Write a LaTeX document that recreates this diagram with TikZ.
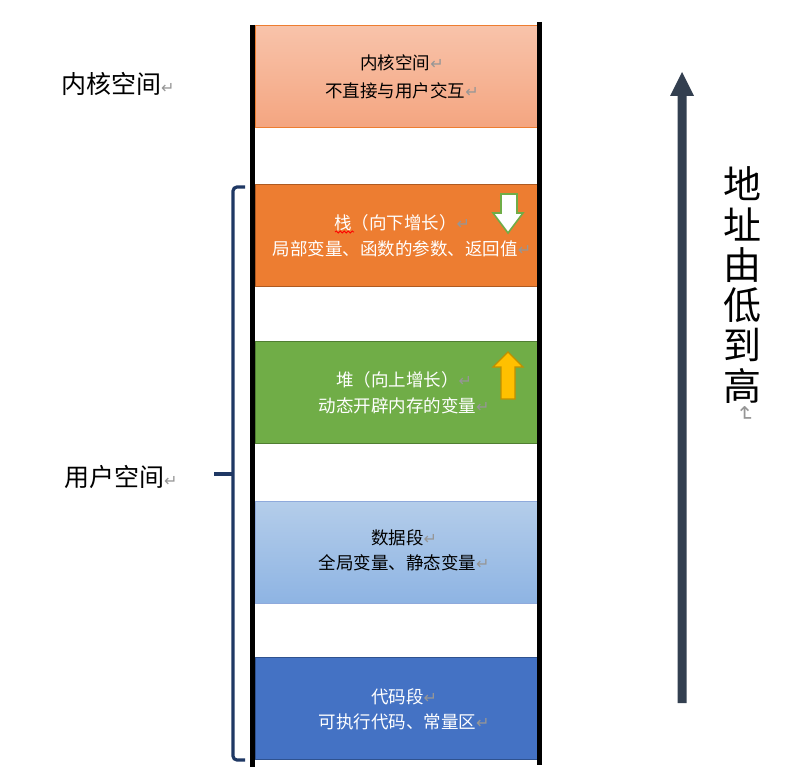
\documentclass[tikz,border=0pt]{standalone}
\usepackage{fontspec}
\setmainfont{Noto Sans CJK SC}
\newfontfamily\markfont{DejaVu Sans}
\usetikzlibrary{decorations.pathmorphing}
\definecolor{kerneltop}{RGB}{248,195,170}
\definecolor{kernelbot}{RGB}{244,165,128}
\definecolor{kernelbd}{RGB}{237,125,49}
\definecolor{stackfill}{RGB}{237,125,49}
\definecolor{stackbd}{RGB}{174,90,33}
\definecolor{heapfill}{RGB}{112,173,71}
\definecolor{heapbd}{RGB}{80,126,50}
\definecolor{datatop}{RGB}{180,205,234}
\definecolor{databot}{RGB}{142,180,227}
\definecolor{databd}{RGB}{143,170,220}
\definecolor{codefill}{RGB}{68,114,196}
\definecolor{codebd}{RGB}{47,82,143}
\definecolor{bracecol}{RGB}{31,56,100}
\definecolor{addrcol}{RGB}{51,63,80}
\definecolor{markgray}{RGB}{150,150,150}
\definecolor{goldfill}{RGB}{255,192,0}
\definecolor{goldbd}{RGB}{191,144,0}
\newcommand{\parmk}{{\markfont\color{markgray}\fontsize{16}{16}\selectfont ↵}}
\newcommand{\bigparmk}{{\markfont\color{markgray}\fontsize{21}{21}\selectfont ↵}}
\tikzset{
  seg/.style={minimum width=282pt, minimum height=102pt, inner sep=0pt, line width=1pt},
  segtext/.style={align=center, inner sep=0pt, font=\fontsize{17.5}{25.5}\selectfont},
  sidelabel/.style={inner sep=0pt, anchor=west, font=\fontsize{25}{25}\selectfont},
  wall/.style={line width=4.5pt, black},
}
\begin{document}
\begin{tikzpicture}[x=1pt,y=-1pt]
\useasboundingbox (0,0) rectangle (801,781);
% segments
\node[seg, draw=kernelbd, top color=kerneltop, bottom color=kernelbot] (kernel) at (396,77) {};
\node[seg, draw=stackbd, fill=stackfill] (stack) at (396,235.5) {};
\node[seg, draw=heapbd, fill=heapfill] (heap) at (396,392.5) {};
\node[seg, draw=databd, top color=datatop, bottom color=databot] (data) at (396,552) {};
\node[seg, draw=codebd, fill=codefill] (code) at (396,708.5) {};
% walls
\coordinate (lwtop) at (252.5,25);
\coordinate (lwbot) at (252.5,767);
\coordinate (rwtop) at (539.5,22);
\coordinate (rwbot) at (539.5,765);
\draw[wall] (lwtop) -- (lwbot);
\draw[wall] (rwtop) -- (rwbot);
% texts
\node[segtext, font=\fontsize{17.5}{28}\selectfont] (kerneltxt) at (402,77) {内核空间\parmk\\不直接与用户交互\parmk};
\node[segtext, text=white] (stacktxt) at (402,235.5) {栈（向下增长）\parmk\\局部变量、函数的参数、返回值\parmk};
\node[segtext, text=white] (heaptxt) at (404,392.5) {堆（向上增长）\parmk\\动态开辟内存的变量\parmk};
\node[segtext] (datatxt) at (404,550.5) {数据段\parmk\\全局变量、静态变量\parmk};
\node[segtext, text=white] (codetxt) at (404,709.5) {代码段\parmk\\可执行代码、常量区\parmk};
% spell-check squiggle under 栈
\draw[red, line width=0.8pt, decorate, decoration={snake, amplitude=1pt, segment length=4pt}] (335,232) -- (354,232);
% growth arrows
\draw[heapfill, line width=1.6pt, fill=white, line join=miter]
  (501,194) -- (517,194) -- (517,213) -- (523,213) -- (508,233) -- (493,213) -- (501,213) -- cycle;
\draw[goldbd, line width=1.4pt, fill=goldfill, line join=miter]
  (508,352) -- (523,367) -- (515,367) -- (515,399) -- (501,399) -- (501,367) -- (493,367) -- cycle;
% side labels
\node[sidelabel] (klabel) at (61,84) {内核空间\parmk};
\node[sidelabel] (ulabel) at (64,477) {用户空间\parmk};
% brace
\coordinate (brtop) at (245,187);
\coordinate (brbot) at (245,760);
\coordinate (brtick) at (214,474);
\draw[bracecol, line width=3.2pt, rounded corners=4pt] (brtop) -- (233,187) -- (233,760) -- (brbot);
\draw[bracecol, line width=3.2pt] (brtick) -- (233,474);
% address arrow
\fill[addrcol] (677.5,703) -- (686.5,703) -- (686.5,96) -- (694,96) -- (682,72) -- (670,96) -- (677.5,96) -- cycle;
\node[align=center, inner sep=0pt, font=\fontsize{38}{40.3}\selectfont] (addrtxt) at (742,285) {地\\址\\由\\低\\到\\高};
\node[inner sep=0pt, rotate=-90] (addrmark) at (745,414) {\bigparmk};
\end{tikzpicture}
\end{document}
